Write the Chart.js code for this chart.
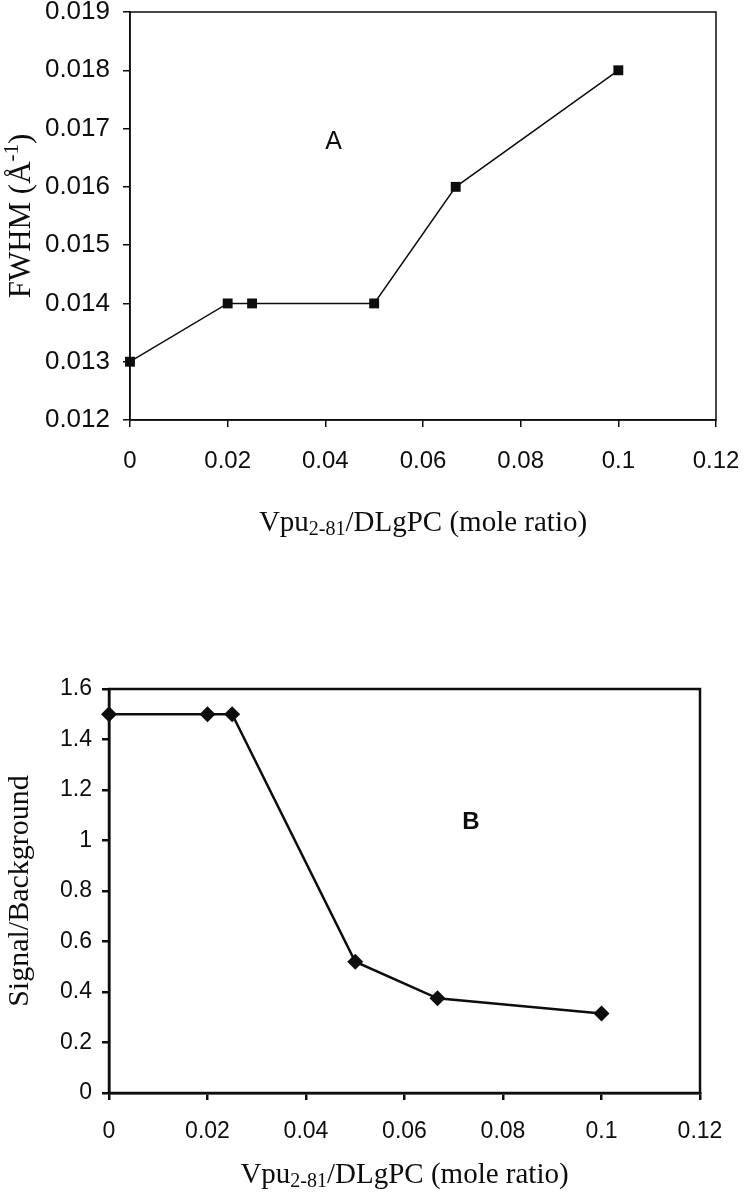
<!DOCTYPE html>
<html>
<head>
<meta charset="utf-8">
<script src="https://cdn.jsdelivr.net/npm/chart.js@4.4.1/dist/chart.umd.min.js"></script>
<style>
  html, body { margin: 0; padding: 0; background: #fff; }
  .panel { position: absolute; left: 0; width: 746px; }
  #panelA { top: 0; height: 560px; }
  #panelB { top: 560px; height: 639px; }
</style>
</head>
<body>
<div class="panel" id="panelA"><canvas id="chartA"></canvas></div>
<div class="panel" id="panelB"><canvas id="chartB"></canvas></div>
<script>
// --- DATA ---
const ratioA = [0, 0.02, 0.025, 0.05, 0.0667, 0.1];
const fwhm = [0.013, 0.014, 0.014, 0.014, 0.016, 0.018];
const ratioB = [0, 0.02, 0.025, 0.05, 0.0667, 0.1];
const signalBg = [1.5, 1.5, 1.5, 0.52, 0.375, 0.315];

const ratioTicks = [0, 0.02, 0.04, 0.06, 0.08, 0.1, 0.12];
const fwhmTicks = [0.012, 0.013, 0.014, 0.015, 0.016, 0.017, 0.018, 0.019];
const signalTicks = [0, 0.2, 0.4, 0.6, 0.8, 1, 1.2, 1.4, 1.6];

const INK = '#0d0d0d';
const SANS = "'Liberation Sans', Arial, sans-serif";
const SERIF = "'Liberation Serif', 'Times New Roman', serif";

// draws a title made of normal + subscript/superscript pieces, centred on (cx, cy)
function drawRich(ctx, parts, size, cx, cy, rot) {
  const small = Math.round(size * 0.68);
  const widths = parts.map(p => {
    ctx.font = `${p.shift ? small : size}px ${SERIF}`;
    return ctx.measureText(p.t).width;
  });
  const total = widths.reduce((a, b) => a + b, 0);
  ctx.save();
  ctx.translate(cx, cy);
  ctx.rotate(rot);
  ctx.fillStyle = INK;
  ctx.textBaseline = 'middle';
  ctx.textAlign = 'left';
  let x = -total / 2;
  parts.forEach((p, i) => {
    ctx.font = `${p.shift ? small : size}px ${SERIF}`;
    const dy = p.shift === 'sub' ? size * 0.22 : p.shift === 'sup' ? -size * 0.32 : 0;
    ctx.fillText(p.t, x, dy);
    x += widths[i];
  });
  ctx.restore();
}

// box round the plot, panel letter and the two axis titles
function framePlugin(o) {
  return {
    id: 'frame',
    afterDraw(chart) {
      const { ctx, chartArea: a, scales } = chart;
      ctx.save();
      ctx.strokeStyle = INK;
      ctx.lineWidth = o.lineWidth;
      ctx.strokeRect(a.left, a.top, a.right - a.left, a.bottom - a.top);
      ctx.fillStyle = INK;
      ctx.font = o.letterFont;
      ctx.textAlign = 'center';
      ctx.textBaseline = 'middle';
      ctx.fillText(o.letter, scales.x.getPixelForValue(o.letterAt[0]), scales.y.getPixelForValue(o.letterAt[1]));
      ctx.restore();
      drawRich(ctx, o.xTitle, o.titleSize, (a.left + a.right) / 2, o.xTitleY, 0);
      drawRich(ctx, o.yTitle, o.yTitleSize, o.yTitleX, (a.top + a.bottom) / 2, -Math.PI / 2);
    }
  };
}

function fmt(v) {
  return String(Number(v.toFixed(3)));
}

function makeChart(id, xs, ys, cfg) {
  const pts = xs.map((x, i) => ({ x: x, y: ys[i] }));
  return new Chart(document.getElementById(id), {
    type: 'scatter',
    data: {
      datasets: [{
        data: pts,
        showLine: true,
        borderColor: INK,
        borderWidth: cfg.lineWidth,
        backgroundColor: INK,
        pointBackgroundColor: INK,
        pointBorderColor: INK,
        pointBorderWidth: 0,
        pointStyle: cfg.marker,
        pointRadius: cfg.markerRadius,
        clip: false
      }]
    },
    options: {
      responsive: true,
      maintainAspectRatio: false,
      animation: false,
      events: [],
      layout: { padding: cfg.padding },
      plugins: {
        legend: { display: false },
        tooltip: { enabled: false }
      },
      scales: {
        x: {
          type: 'linear',
          min: 0,
          max: 0.12,
          afterBuildTicks: s => { s.ticks = ratioTicks.map(v => ({ value: v })); },
          afterFit: s => { s.height = cfg.xAxisHeight; s.paddingLeft = 0; s.paddingRight = 0; },
          grid: { display: true, drawOnChartArea: false, drawTicks: true, tickLength: 7, color: INK, lineWidth: cfg.axisWidth },
          border: { display: true, color: INK, width: cfg.axisWidth },
          ticks: { color: INK, font: { family: SANS, size: cfg.xTickSize }, padding: cfg.xTickPad, maxRotation: 0, autoSkip: false, callback: v => fmt(v) }
        },
        y: {
          type: 'linear',
          min: cfg.yTicks[0],
          max: cfg.yTicks[cfg.yTicks.length - 1],
          afterBuildTicks: s => { s.ticks = cfg.yTicks.map(v => ({ value: v })); },
          afterFit: s => { s.width = cfg.yAxisWidth; s.paddingTop = 0; s.paddingBottom = 0; },
          grid: { display: true, drawOnChartArea: false, drawTicks: true, tickLength: 7, color: INK, lineWidth: cfg.axisWidth },
          border: { display: true, color: INK, width: cfg.axisWidth },
          ticks: { color: INK, font: { family: SANS, size: cfg.yTickSize }, padding: cfg.yTickPad, autoSkip: false, callback: v => cfg.yFmt(v) }
        }
      }
    },
    plugins: [framePlugin(cfg.frame)]
  });
}

const xTitleParts = [
  { t: 'Vpu' },
  { t: '2-81', shift: 'sub' },
  { t: '/DLgPC (mole ratio)' }
];

makeChart('chartA', ratioA, fwhm, {
  lineWidth: 1.5,
  axisWidth: 1.5,
  marker: 'rect',
  markerRadius: 7,
  padding: { left: 0, right: 30, top: 12, bottom: 0 },
  xAxisHeight: 140,
  yAxisWidth: 130,
  xTickSize: 24,
  yTickSize: 26,
  xTickPad: 20,
  yTickPad: 13,
  yTicks: fwhmTicks,
  yFmt: v => v.toFixed(3),
  frame: {
    lineWidth: 1.5,
    letter: 'A',
    letterAt: [0.0417, 0.01676],
    letterFont: `25px ${SANS}`,
    titleSize: 29,
    yTitleSize: 31,
    xTitleY: 523,
    yTitleX: 22,
    xTitle: xTitleParts,
    yTitle: [{ t: 'FWHM (Å' }, { t: '-1', shift: 'sup' }, { t: ')' }]
  }
});

makeChart('chartB', ratioB, signalBg, {
  lineWidth: 2.5,
  axisWidth: 2.5,
  marker: 'rectRot',
  markerRadius: 8,
  padding: { left: 0, right: 46, top: 129, bottom: 0 },
  xAxisHeight: 106,
  yAxisWidth: 109,
  xTickSize: 23,
  yTickSize: 23,
  xTickPad: 18,
  yTickPad: 10,
  yTicks: signalTicks,
  yFmt: v => fmt(v),
  frame: {
    lineWidth: 2.5,
    letter: 'B',
    letterAt: [0.0735, 1.07],
    letterFont: `bold 24px ${SANS}`,
    titleSize: 29,
    yTitleSize: 30,
    xTitleY: 615,
    yTitleX: 20,
    xTitle: xTitleParts,
    yTitle: [{ t: 'Signal/Background' }]
  }
});
</script>
</body>
</html>
